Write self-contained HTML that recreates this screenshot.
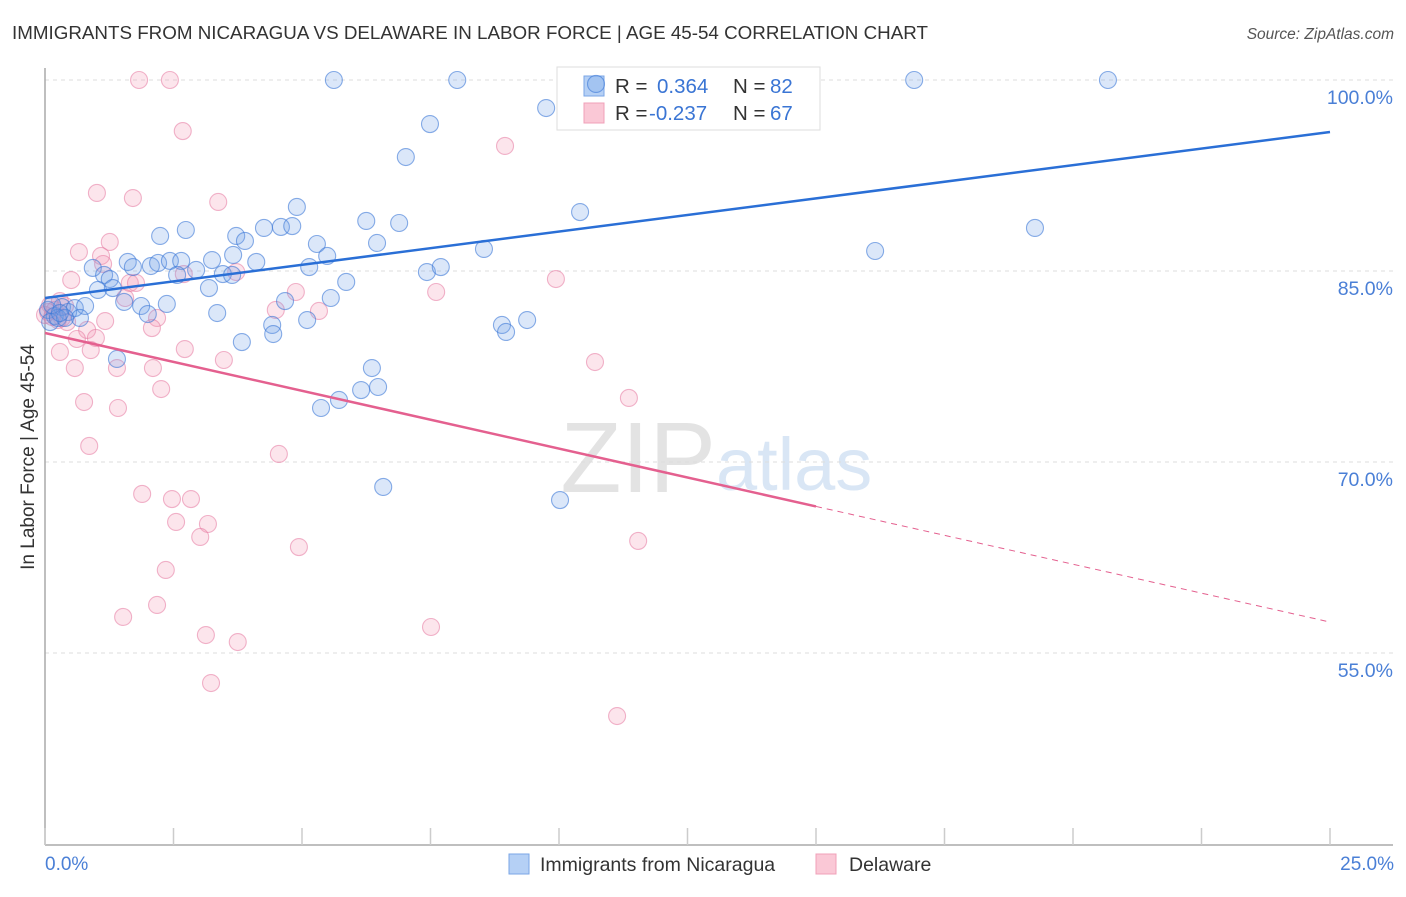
<!DOCTYPE html>
<html><head><meta charset="utf-8"><style>
body{margin:0;background:#fff;font-family:"Liberation Sans",sans-serif;}
svg text{font-family:"Liberation Sans",sans-serif;}
</style></head><body>
<svg id="chart" width="1406" height="892" xmlns="http://www.w3.org/2000/svg">
<text x="12" y="39" font-size="18.8" fill="#333">IMMIGRANTS FROM NICARAGUA VS DELAWARE IN LABOR FORCE | AGE 45-54 CORRELATION CHART</text>
<text x="1394" y="39" font-size="15.5" fill="#555" text-anchor="end" font-style="italic">Source: ZipAtlas.com</text>
<text x="716" y="492" font-size="100" fill="#d8d8d8" text-anchor="end" font-family="Liberation Serif" opacity="0.7">ZIP</text>
<text x="716" y="490" font-size="74" fill="#c9dcf2" opacity="0.7">atlas</text>
<g id="grid"></g>
<g id="axes"></g>
<g>
<rect x="557" y="67" width="263" height="63" fill="#fff" stroke="#ddd"/>
<rect x="584" y="76" width="20" height="20" fill="#b5d0f5" stroke="#7aa6e6"/>
<rect x="584" y="103" width="20" height="20" fill="#fac8d6" stroke="#f0a0b8"/>
<text x="615" y="93" font-size="20.5" fill="#333">R = </text>
<text x="657" y="93" font-size="20.5" fill="#3a75d4">0.364</text>
<text x="733" y="93" font-size="20.5" fill="#333">N = </text>
<text x="770" y="93" font-size="20.5" fill="#3a75d4">82</text>
<text x="615" y="120" font-size="20.5" fill="#333">R = </text>
<text x="649" y="120" font-size="20.5" fill="#3a75d4">-0.237</text>
<text x="733" y="120" font-size="20.5" fill="#333">N = </text>
<text x="770" y="120" font-size="20.5" fill="#3a75d4">67</text>
</g>
<g id="points"></g>
<g id="trends"></g>
<text transform="translate(34,457) rotate(-90)" font-size="19" fill="#333" text-anchor="middle">In Labor Force | Age 45-54</text>
<text x="45" y="870" font-size="19" fill="#4a7fd6">0.0%</text>
<text x="1394" y="870" font-size="19" fill="#4a7fd6" text-anchor="end">25.0%</text>
<g>
<rect x="509" y="854" width="20" height="20" fill="#b5d0f5" stroke="#7aa6e6"/>
<text x="540" y="871" font-size="19.5" fill="#333">Immigrants from Nicaragua</text>
</g>
<g>
<rect x="816" y="854" width="20" height="20" fill="#fac8d6" stroke="#f0a0b8"/>
<text x="849" y="871" font-size="19.5" fill="#333">Delaware</text>
</g>
</svg>
<script>
const yTicks=[100,85,70,55];
const yTickLabels=["100.0%","85.0%","70.0%","55.0%"];
const blueX=[5.62,8.02,16.91,20.68,10.72,9.75,7.49,7.02,10.41,4.90,6.25,6.89,2.24,2.74,4.26,4.59,4.81,3.72,3.89,6.46,5.29,5.49,8.54,16.15,19.26,1.61,1.71,0.93,1.15,1.26,2.06,2.20,2.43,2.65,2.94,2.57,3.25,3.46,3.64,4.11,3.66,5.14,7.43,7.70,5.86,1.03,1.32,3.19,1.54,1.87,2.37,2.00,3.35,4.67,5.56,4.42,4.44,5.10,3.83,8.89,8.97,9.38,1.40,6.36,6.48,6.15,5.72,5.37,6.58,10.02,0.06,0.19,0.33,0.45,0.58,0.78,0.10,0.25,0.68,0.39,0.14,0.29];
const blueY=[100,100,100,100,99.69,97.80,96.54,93.95,89.63,90.03,88.93,88.77,87.75,88.22,88.38,88.46,88.53,87.75,87.36,87.20,87.12,86.18,86.73,86.57,88.38,85.71,85.31,85.24,84.69,84.37,85.39,85.63,85.79,85.79,85.08,84.69,85.86,84.76,84.69,85.71,86.26,85.31,84.92,85.31,84.14,83.51,83.66,83.66,82.57,82.25,82.41,81.62,81.70,82.64,82.88,80.76,80.05,81.15,79.42,80.76,80.21,81.15,78.09,77.38,75.89,75.65,74.87,74.24,68.04,67.01,81.94,81.47,82.17,81.78,82.09,82.25,80.99,81.31,81.31,81.31,82.33,81.70];
const pinkX=[1.83,2.43,2.68,8.95,1.01,1.71,3.37,0.66,1.26,1.09,1.13,0.51,1.65,1.77,1.56,2.18,1.17,0.82,0.43,0.33,0.99,0.62,0.89,0.29,2.72,3.48,2.08,1.40,2.10,0.58,2.26,0.76,1.42,0.86,1.89,2.47,2.84,2.55,3.17,3.02,2.35,2.18,1.52,3.13,3.75,3.23,4.94,4.55,4.49,5.33,4.88,3.72,2.70,9.94,7.61,10.70,11.36,11.54,7.51,11.13,0.10,0.19,0.00,0.25,0.06,0.39,0.14,0.29];
const pinkY=[100,100,95.99,94.82,91.13,90.73,90.42,86.49,87.28,86.18,85.55,84.29,84.06,84.06,82.88,81.31,81.07,80.37,80.99,81.31,79.74,79.66,78.79,78.64,78.87,78.01,80.52,77.38,77.38,77.38,75.73,74.71,74.24,71.26,67.49,67.09,67.09,65.29,65.13,64.11,61.52,58.77,57.83,56.41,55.86,52.64,63.32,70.63,81.94,81.86,83.35,84.92,84.76,84.37,83.35,77.85,75.03,63.80,57.04,50.05,82.33,81.94,81.54,81.15,81.78,82.25,81.39,82.64];
const blueTrend=[82.88,95.92];
const pinkTrend=[80.13,57.43];
const pinkSolidEnd=15;

const NS="http://www.w3.org/2000/svg";
function xs(p){return 45+p*51.4;}
function ys(v){return 80+(100-v)*12.733;}
function mk(tag,attrs,parent){const e=document.createElementNS(NS,tag);for(const k in attrs)e.setAttribute(k,attrs[k]);parent.appendChild(e);return e;}
const grid=document.getElementById('grid'),axes=document.getElementById('axes'),pts=document.getElementById('points'),tr=document.getElementById('trends');
yTicks.forEach((t,i)=>{
  const l=mk('line',{x1:45,x2:1393,y1:ys(t),y2:ys(t),stroke:'#ddd','stroke-dasharray':'4,4'},grid);
  
  
  const tx=mk('text',{x:1393,y:ys(t)+24,'font-size':19.5,fill:'#4a7fd6','text-anchor':'end'},grid);
  tx.textContent=yTickLabels[i];
  
  
});
const ya=mk('line',{x1:45,x2:45,y1:68,y2:845,stroke:'#aaa','stroke-width':1.5},axes);


const xa=mk('line',{x1:45,x2:1393,y1:845,y2:845,stroke:'#aaa','stroke-width':1.5},axes);


for(let i=0;i<=10;i++){
  const t=mk('line',{x1:xs(i*2.5),x2:xs(i*2.5),y1:828,y2:845,stroke:'#ccc','stroke-width':1.5},axes);
  
  
}
function dots(X,Y,fill,stroke,name){
  X.forEach((x,i)=>{
    const c=mk('circle',{cx:xs(x),cy:ys(Y[i]),r:8.5,fill:fill,stroke:stroke,'stroke-width':1.1},pts);
    
    
  });
}
dots(pinkX,pinkY,'rgba(245,150,180,0.25)','rgba(230,120,160,0.55)','delaware-point');
dots(blueX,blueY,'rgba(110,160,230,0.25)','rgba(60,120,215,0.6)','nicaragua-point');
const bl=mk('line',{x1:xs(0),y1:ys(blueTrend[0]),x2:xs(25),y2:ys(blueTrend[1]),stroke:'#2a6fd6','stroke-width':2.5},tr);


const pm=pinkTrend[0]+(pinkTrend[1]-pinkTrend[0])*pinkSolidEnd/25;
const pl=mk('line',{x1:xs(0),y1:ys(pinkTrend[0]),x2:xs(pinkSolidEnd),y2:ys(pm),stroke:'#e4608f','stroke-width':2.5},tr);


const pd=mk('line',{x1:xs(pinkSolidEnd),y1:ys(pm),x2:xs(25),y2:ys(pinkTrend[1]),stroke:'#e4608f','stroke-width':1,'stroke-dasharray':'6,5'},tr);


</script>
</body></html>
